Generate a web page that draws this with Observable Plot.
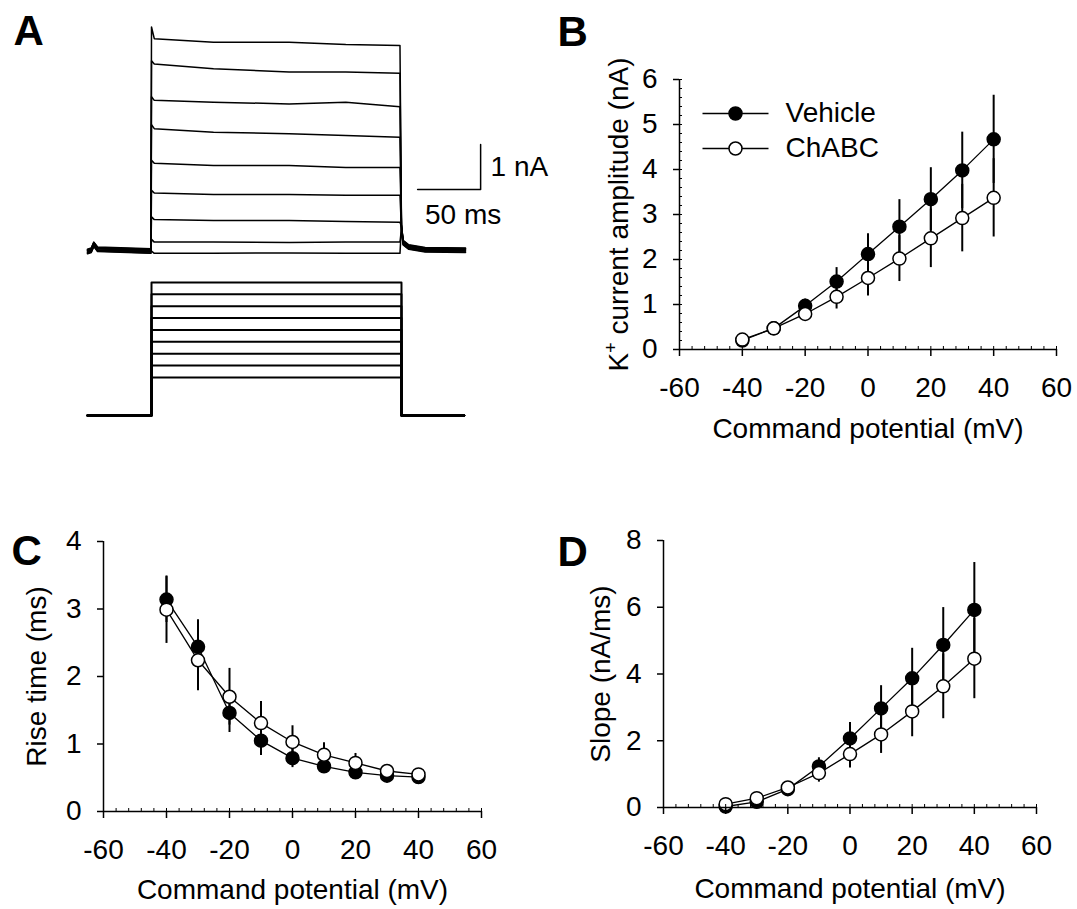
<!DOCTYPE html>
<html><head><meta charset="utf-8">
<script src="https://cdn.jsdelivr.net/npm/d3@7"></script>
<script src="https://cdn.jsdelivr.net/npm/@observablehq/plot@0.6"></script>
<style>
html,body{margin:0;padding:0;background:#fff;}
#fig{position:relative;width:1077px;height:909px;overflow:hidden;font-family:"Liberation Sans",Arial,sans-serif;}
</style></head><body><div id="fig"></div>
<script>
// ---------- DATA ----------
const potentials = [-40, -30, -20, -10, 0, 10, 20, 30, 40];
const xTicks = [-60, -40, -20, 0, 20, 40, 60];

// Panel B: K+ current amplitude (nA)
const ampVehicle    = [0.20, 0.47, 0.97, 1.51, 2.12, 2.73, 3.34, 3.98, 4.67];
const ampVehicleSem = [0.05, 0.08, 0.15, 0.31, 0.45, 0.60, 0.70, 0.85, 0.98];
const ampChABC      = [0.22, 0.47, 0.79, 1.17, 1.59, 2.02, 2.47, 2.92, 3.37];
const ampChABCSem   = [0.05, 0.07, 0.15, 0.27, 0.40, 0.51, 0.65, 0.75, 0.87];

// Panel C: rise time (ms)
const riseVehicle    = [3.14, 2.44, 1.46, 1.05, 0.79, 0.67, 0.58, 0.53, 0.51];
const riseVehicleSem = [0.34, 0.40, 0.29, 0.22, 0.14, 0.09, 0.06, 0.04, 0.03];
const riseChABC      = [2.99, 2.24, 1.70, 1.31, 1.03, 0.84, 0.72, 0.60, 0.55];
const riseChABCSem   = [0.50, 0.45, 0.42, 0.32, 0.24, 0.18, 0.14, 0.07, 0.05];

// Panel D: slope (nA/ms)
const slopeVehicle    = [0.03, 0.17, 0.55, 1.23, 2.07, 2.97, 3.87, 4.87, 5.92];
const slopeVehicleSem = [0.15, 0.08, 0.10, 0.26, 0.48, 0.68, 0.90, 1.12, 1.42];
const slopeChABC      = [0.10, 0.28, 0.60, 1.03, 1.60, 2.19, 2.88, 3.63, 4.46];
const slopeChABCSem   = [0.05, 0.06, 0.10, 0.27, 0.42, 0.57, 0.76, 0.97, 1.20];

const legendLabels = ["Vehicle", "ChABC"];
const legendFills = ["black", "white"];

// Panel A: current traces (time in ms, current in nA)
const preTimes  = [0, 3, 5, 8, 50.3];
const preLevels = [0.02, 0.05, 0.18, 0.07, 0.03];
const onsetTime = 50.8;
const tracePeaks = [5.00, 4.25, 3.45, 2.83, 2.04, 1.37, 0.78, 0.28, 0.02];
const plateauTimes = [53, 100, 160, 205, 248];
const traceLevels = [
  [4.74, 4.66, 4.66, 4.61, 4.59],
  [4.18, 4.07, 4.00, 4.00, 3.97],
  [3.37, 3.33, 3.29, 3.33, 3.23],
  [2.74, 2.66, 2.63, 2.59, 2.55],
  [1.97, 1.92, 1.92, 1.88, 1.88],
  [1.31, 1.28, 1.28, 1.26, 1.26],
  [0.72, 0.70, 0.70, 0.68, 0.66],
  [0.22, 0.22, 0.21, 0.22, 0.22],
  [-0.03, -0.03, -0.02, -0.03, -0.03]
];
const postTimes  = [249.2, 250.5, 255, 268, 300];
const postLevels = [0.55, 0.22, 0.12, 0.06, 0.05];
const baselineOffsets = [0.00, -0.05, 0.03, -0.02, 0.02, -0.06, 0.01, -0.03, 0.04];
const scaleBarTimes = [262, 312];      // 50 ms
const scaleBarCurrents = [1.39, 2.39]; // 1 nA

// Voltage protocol (mV)
const stepLevels = [40, 30, 20, 10, 0, -10, -20, -30, -40];
const holdingPotential = -72;
const stepOn = 50.8, stepOff = 249.2, protocolEnd = 299;

// ---------- HELPERS ----------
const fig = document.getElementById("fig");
const FONT = "'Liberation Sans', Arial, sans-serif";
function place(el, left, top) {
  el.style.position = "absolute";
  el.style.left = left + "px";
  el.style.top = top + "px";
  fig.appendChild(el);
}
const baseStyle = {background: "transparent", fontFamily: FONT, fontSize: "28px", color: "black", overflow: "visible"};
const legendLine = {draw(ctx) { ctx.moveTo(-33, 0); ctx.lineTo(33, 0); }};

function seriesPanel(o) {
  const W = o.width - o.mL - o.mR, H = o.height - o.mT - o.mB;
  const veh = potentials.map((p, i) => ({p, v: o.vehicle[i], s: o.vehicleSem[i]}));
  const cha = potentials.map((p, i) => ({p, v: o.chabc[i], s: o.chabcSem[i]}));
  const marks = [
    Plot.ruleX(veh, {x: "p", y1: d => d.v - d.s, y2: d => d.v + d.s, stroke: "black", strokeWidth: 2}),
    Plot.ruleX(cha, {x: "p", y1: d => d.v - d.s, y2: d => d.v + d.s, stroke: "black", strokeWidth: 2}),
    Plot.line(veh, {x: "p", y: "v", stroke: "black", strokeWidth: 1.3}),
    Plot.line(cha, {x: "p", y: "v", stroke: "black", strokeWidth: 1.3}),
    Plot.dot(veh, {x: "p", y: "v", r: 6.5, fill: "black", stroke: "black", strokeWidth: 1.5}),
    Plot.dot(cha, {x: "p", y: "v", r: 6.5, fill: "white", stroke: "black", strokeWidth: 1.5}),
    Plot.ruleX([-60], {stroke: "black", strokeWidth: 1.5}),
    Plot.ruleY([o.yDomain[0]], {stroke: "black", strokeWidth: 1.5}),
    Plot.tickX(d3.range(-60, 61, 4), {x: d => d, insetTop: H - 3, stroke: "black", strokeWidth: 1}),
    Plot.axisX({ticks: xTicks, tickSize: 7, tickPadding: 21, tickFormat: d => String(d), label: null, strokeWidth: 1.5, fontSize: 28}),
    Plot.axisY({ticks: o.yTicks, tickSize: 6, tickPadding: 16, tickFormat: d => String(d), label: null, strokeWidth: 1.5, fontSize: 28}),
    Plot.text(["Command potential (mV)"], {frameAnchor: "bottom", dy: o.xTitleDy, text: d => d, textAnchor: "middle", lineAnchor: "bottom", fontSize: 28}),
    Plot.text([o.yTitle], {frameAnchor: "left", rotate: -90, dx: o.yTitleDx, text: d => d, textAnchor: "middle", lineAnchor: "bottom", fontSize: 28}),
    Plot.text([o.letter], {frameAnchor: "top-left", dx: o.letterDx, dy: o.letterDy, text: d => d, textAnchor: "start", lineAnchor: "bottom", fontSize: 42, fontWeight: "bold"})
  ];
  if (o.yMinor) marks.push(Plot.tickY(o.yMinor, {y: d => d, insetRight: W - 3, stroke: "black", strokeWidth: 1}));
  if (o.legend) {
    legendLabels.forEach((lab, i) => {
      const dy = 34 + i * 35;
      marks.push(Plot.dot([lab], {frameAnchor: "top-left", dx: 56, dy, symbol: legendLine, stroke: "black", strokeWidth: 1.3, fill: "none", r: 5}));
      marks.push(Plot.dot([lab], {frameAnchor: "top-left", dx: 56, dy, r: 6.5, fill: legendFills[i], stroke: "black", strokeWidth: 1.5}));
      marks.push(Plot.text([lab], {frameAnchor: "top-left", dx: 106, dy, text: d => d, textAnchor: "start", lineAnchor: "middle", fontSize: 28}));
    });
  }
  const svg = Plot.plot({
    width: o.width, height: o.height,
    marginLeft: o.mL, marginRight: o.mR, marginTop: o.mT, marginBottom: o.mB,
    style: baseStyle,
    x: {domain: [-60, 60], axis: null},
    y: {domain: o.yDomain, axis: null},
    marks
  });
  place(svg, o.left, o.top);
  return svg;
}

// ---------- PANEL A: current traces ----------
const traceRows = [];
traceLevels.forEach((lv, k) => {
  const off = baselineOffsets[k];
  preTimes.forEach((t, j) => traceRows.push({k, t, i: preLevels[j] + off}));
  traceRows.push({k, t: onsetTime, i: tracePeaks[k]});
  plateauTimes.forEach((t, j) => traceRows.push({k, t, i: lv[j]}));
  postTimes.forEach((t, j) => traceRows.push({k, t, i: postLevels[j] + off}));
});
const barRows = [
  {t: scaleBarTimes[0], i: scaleBarCurrents[0]},
  {t: scaleBarTimes[1], i: scaleBarCurrents[0]},
  {t: scaleBarTimes[1], i: scaleBarCurrents[1]}
];
const tracesSvg = Plot.plot({
  width: 560, height: 275, marginLeft: 87, marginRight: 32, marginTop: 4, marginBottom: 1,
  style: baseStyle,
  x: {domain: [0, 350], axis: null},
  y: {domain: [-0.5, 5.5], axis: null},
  marks: [
    Plot.line(traceRows, {x: "t", y: "i", z: "k", stroke: "black", strokeWidth: 1.5}),
    Plot.line(barRows, {x: "t", y: "i", stroke: "black", strokeWidth: 1.5}),
    Plot.text([{t: scaleBarTimes[1], i: (scaleBarCurrents[0] + scaleBarCurrents[1]) / 2, label: "1 nA"}],
      {x: "t", y: "i", text: "label", textAnchor: "start", lineAnchor: "middle", dx: 10, fontSize: 28}),
    Plot.text([{t: (scaleBarTimes[0] + scaleBarTimes[1]) / 2, i: scaleBarCurrents[0], label: "50 ms"}],
      {x: "t", y: "i", text: "label", textAnchor: "middle", lineAnchor: "middle", dx: 14, dy: 26, fontSize: 28}),
    Plot.text(["A"], {frameAnchor: "top-left", dx: -74, dy: 40, text: d => d, textAnchor: "start", lineAnchor: "bottom", fontSize: 42, fontWeight: "bold"})
  ]
});
place(tracesSvg, 0, 0);

// ---------- PANEL A: voltage protocol ----------
const protocolRows = [];
stepLevels.forEach(v => {
  [[0, holdingPotential], [stepOn, holdingPotential], [stepOn, v], [stepOff, v], [stepOff, holdingPotential], [protocolEnd, holdingPotential]]
    .forEach(([t, mv]) => protocolRows.push({level: v, t, v: mv}));
});
const protocolSvg = Plot.plot({
  width: 560, height: 160, marginLeft: 87, marginRight: 32, marginTop: 6, marginBottom: 5.6,
  style: baseStyle,
  x: {domain: [0, 350], axis: null},
  y: {domain: [-80, 45], axis: null},
  marks: [
    Plot.line(protocolRows, {x: "t", y: "v", z: "level", stroke: "black", strokeWidth: 2})
  ]
});
place(protocolSvg, 0, 270);

// ---------- PANEL B ----------
const svgB = seriesPanel({
  left: 540, top: 0, width: 537, height: 460, mL: 139, mR: 21, mT: 79, mB: 111,
  yDomain: [0, 6], yTicks: [0, 1, 2, 3, 4, 5, 6], yMinor: d3.range(0, 6.01, 0.2),
  vehicle: ampVehicle, vehicleSem: ampVehicleSem, chabc: ampChABC, chabcSem: ampChABCSem,
  yTitle: "K+ current amplitude (nA)", yTitleDx: -52, xTitleDy: 88,
  letter: "B", letterDx: -122, letterDy: -34, legend: true
});
// superscript +
svgB.querySelectorAll("text").forEach(t => {
  if (t.textContent === "K+ current amplitude (nA)") {
    const ns = "http://www.w3.org/2000/svg";
    t.textContent = "";
    const a = document.createElementNS(ns, "tspan"); a.textContent = "K";
    const b = document.createElementNS(ns, "tspan"); b.textContent = "+"; b.setAttribute("font-size", "18"); b.setAttribute("dy", "-11");
    const c = document.createElementNS(ns, "tspan"); c.textContent = " current amplitude (nA)"; c.setAttribute("dy", "11");
    t.append(a, b, c);
  }
});

// ---------- PANEL C ----------
seriesPanel({
  left: 0, top: 470, width: 540, height: 439, mL: 103, mR: 59, mT: 71, mB: 98,
  yDomain: [0, 4], yTicks: [0, 1, 2, 3, 4],
  vehicle: riseVehicle, vehicleSem: riseVehicleSem, chabc: riseChABC, chabcSem: riseChABCSem,
  yTitle: "Rise time (ms)", yTitleDx: -58, xTitleDy: 87,
  letter: "C", letterDx: -92, letterDy: 23
});

// ---------- PANEL D ----------
seriesPanel({
  left: 540, top: 470, width: 537, height: 439, mL: 123, mR: 41, mT: 70, mB: 102,
  yDomain: [0, 8], yTicks: [0, 2, 4, 6, 8],
  vehicle: slopeVehicle, vehicleSem: slopeVehicleSem, chabc: slopeChABC, chabcSem: slopeChABCSem,
  yTitle: "Slope (nA/ms)", yTitleDx: -54, xTitleDy: 90,
  letter: "D", letterDx: -106, letterDy: 25
});
</script></body></html>
